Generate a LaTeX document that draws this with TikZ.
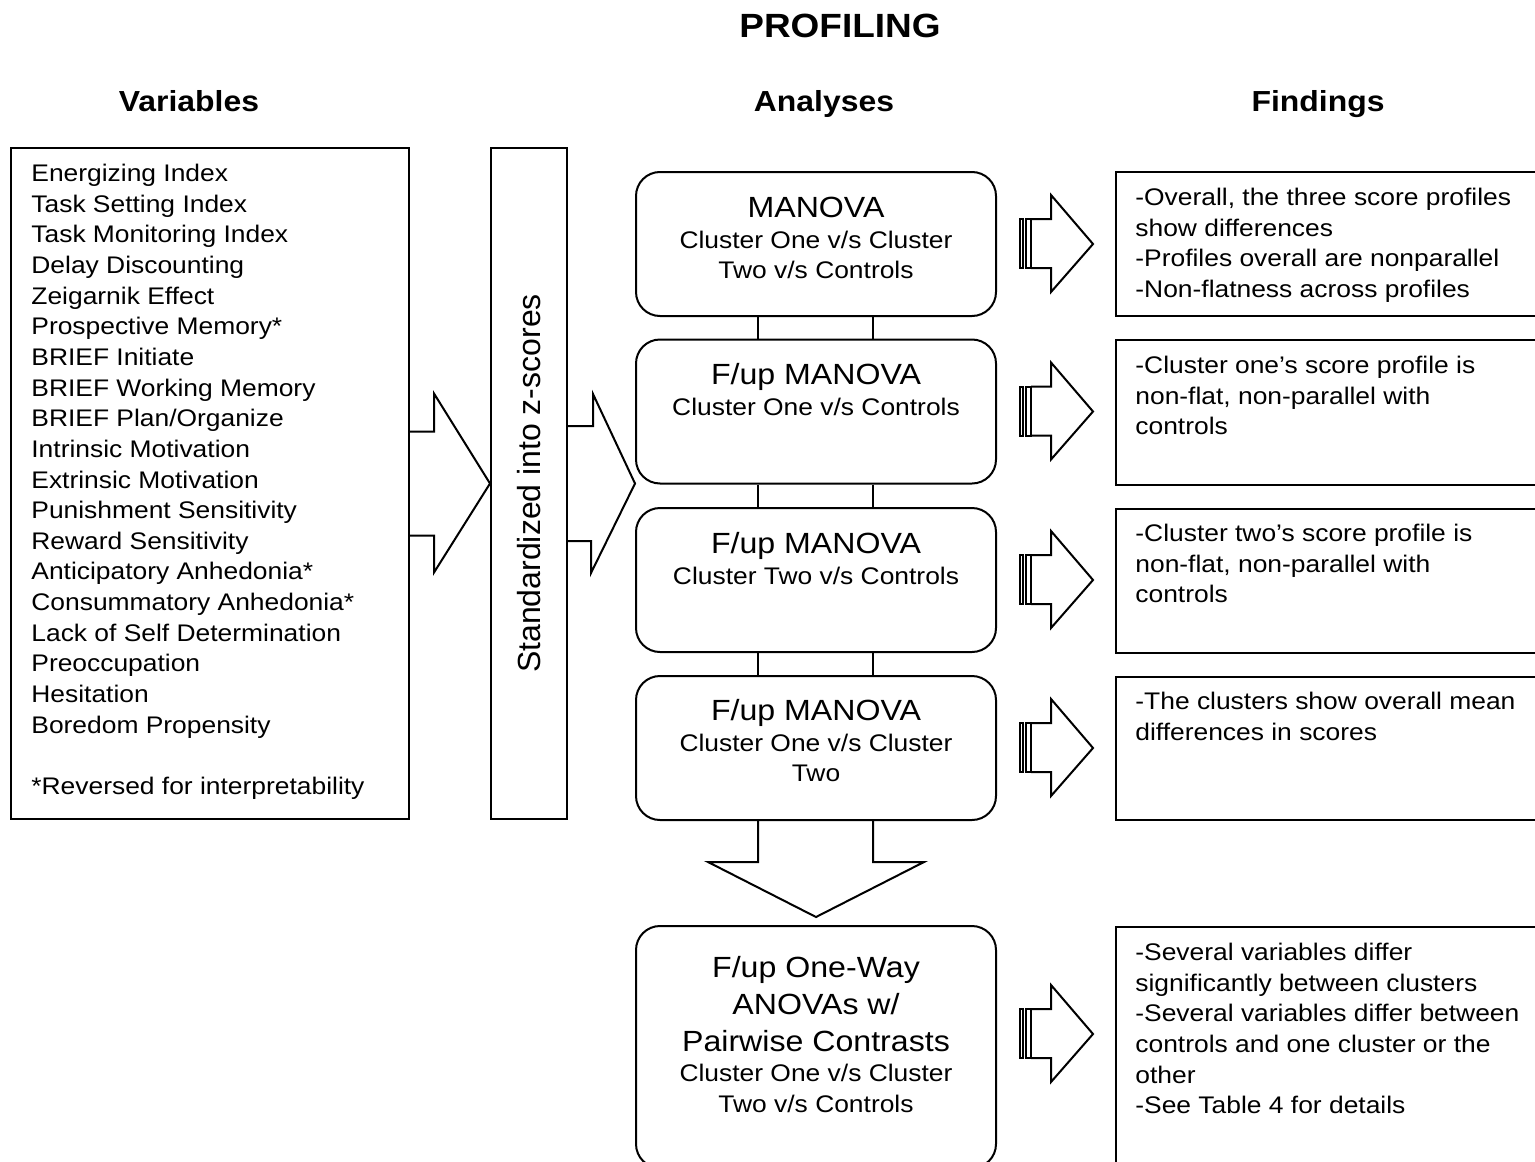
\documentclass[tikz,border=0pt]{standalone}
\usepackage{fontspec}
\setmainfont{Liberation Sans}[FakeStretch=1.1]
\newfontfamily\uprightfont{Liberation Sans}
\usetikzlibrary{calc}

% invisible strut that fixes the height of a first text line
\newcommand\topstrut{\rule{0pt}{14pt}}
\newcommand\bigline{\fontsize{14.6}{18.4}\selectfont}

\tikzset{
  stripes/.pic={
    \draw[outline] (0,-25) rectangle (3,24);
    \draw[outline] (6,-25) rectangle (11,24);
    \draw[outline, line join=miter] (11,-25) -- (31,-25) -- (31,-49) -- (73,0)
      -- (31,48) -- (31,24) -- (11,24);
  }
}

\begin{document}
\begin{tikzpicture}[x=0.5pt, y=-0.5pt,
  outline/.style={draw=black, line width=1pt},
  panel/.style={outline, fill=white, inner sep=0pt, rectangle},
  stepbox/.style={panel, rounded corners=12pt, minimum width=180pt},
  findbox/.style={panel, anchor=north west, minimum width=215pt},
  bodytext/.style={font=\fontsize{12}{15.33}\selectfont, inner sep=0pt},
  listtext/.style={bodytext, align=left, anchor=north west},
  steptext/.style={bodytext, align=center, anchor=north},
  heading/.style={font=\fontsize{14.5}{17}\selectfont\bfseries, anchor=base, inner sep=0pt},
  blockarrow/.style={outline, line join=miter},
]
\useasboundingbox (0,0) rectangle (1535,1161);
\clip (0,0) rectangle (1535,1161);

% titles
\node[heading, font=\fontsize{16.8}{20}\selectfont\bfseries] (title) at (840,38) {PROFILING};
\node[heading] (hvar) at (189,112) {Variables};
\node[heading] (hana) at (824,112) {Analyses};
\node[heading] (hfind) at (1318,112) {Findings};

% variables column
\node[panel, minimum width=199pt, minimum height=335.5pt] (vars) at (210,483.5) {};
\node[listtext] (varlist) at (31,153) {\topstrut Energizing Index\\
Task Setting Index\\
Task Monitoring Index\\
Delay Discounting\\
Zeigarnik Effect\\
Prospective Memory*\\
BRIEF Initiate\\
BRIEF Working Memory\\
BRIEF Plan/Organize\\
Intrinsic Motivation\\
Extrinsic Motivation\\
Punishment Sensitivity\\
Reward Sensitivity\\
Anticipatory Anhedonia*\\
Consummatory Anhedonia*\\
Lack of Self Determination\\
Preoccupation\\
Hesitation\\
Boredom Propensity\\[15.33pt]
*Reversed for interpretability};

% standardisation column
\node[panel, minimum width=38pt, minimum height=335.5pt] (std) at (529,483.5) {};
\node[rotate=90, inner sep=0pt, font=\uprightfont\fontsize{16}{19}\selectfont] (stdtext) at (std) {Standardized into z-scores};

% analysis steps
\node[stepbox, minimum height=72pt] (a1) at (816,244) {};
\node[stepbox, minimum height=72pt] (a2) at (816,411.5) {};
\node[stepbox, minimum height=72pt] (a3) at (816,580) {};
\node[stepbox, minimum height=72pt] (a4) at (816,748) {};
\node[stepbox, minimum height=121pt] (a5) at (816,1047) {};

\node[steptext] (t1) at (816,189) {\topstrut{\bigline MANOVA}\\Cluster One v/s Cluster\\Two v/s Controls};
\node[steptext] (t2) at (816,356) {\topstrut{\bigline F/up MANOVA}\\Cluster One v/s Controls};
\node[steptext] (t3) at (816,525) {\topstrut{\bigline F/up MANOVA}\\Cluster Two v/s Controls};
\node[steptext] (t4) at (816,692) {\topstrut{\bigline F/up MANOVA}\\Cluster One v/s Cluster\\Two};
\node[steptext] (t5) at (816,949) {\topstrut{\bigline F/up One-Way}\\[3.1pt]{\bigline ANOVAs w/}\\[3.1pt]{\bigline Pairwise Contrasts}\\Cluster One v/s Cluster\\Two v/s Controls};

% links between consecutive steps
\foreach \i/\j in {a1/a2, a2/a3, a3/a4} {
  \draw[outline] ([xshift=-29pt]\i.south) -- ([xshift=-29pt]\j.north);
  \draw[outline] ([xshift=28.5pt]\i.south) -- ([xshift=28.5pt]\j.north);
}

% block arrows between columns
\coordinate (tip2) at (std.east -| a2.west);
\draw[blockarrow] ($(std.west)+(-82,-52)$) -- ++(26,0) -- ++(0,-38) -- (std.west)
  -- ++(-56,89) -- ++(0,-37) -- ++(-26,0);
\draw[blockarrow] ($(std.east)+(0,-57.5)$) -- ++(25,0) -- ++(0,-32) -- (tip2)
  -- ++(-44,89.5) -- ++(0,-32) -- ++(-25,0);

% down arrow to the follow-up ANOVAs
\draw[blockarrow] ([xshift=-29pt]a4.south) -- ++(0,41) -- ++(-50,0) -- ++(108,55)
  -- ++(108,-55) -- ++(-51,0) -- ++(0,-41);

% findings column
\node[findbox, minimum height=72pt] (f1) at (1115,171) {};
\node[findbox, minimum height=72.5pt] (f2) at (1115,339) {};
\node[findbox, minimum height=72pt] (f3) at (1115,508) {};
\node[findbox, minimum height=71.5pt] (f4) at (1115,676) {};
\node[findbox, minimum height=150pt] (f5) at (1115,926) {};

\node[listtext] (ft1) at (1135,177) {\topstrut -Overall, the three score profiles\\show differences\\-Profiles overall are nonparallel\\-Non-flatness across profiles};
\node[listtext] (ft2) at (1135,345) {\topstrut -Cluster one’s score profile is\\non-flat, non-parallel with\\controls};
\node[listtext] (ft3) at (1135,513) {\topstrut -Cluster two’s score profile is\\non-flat, non-parallel with\\controls};
\node[listtext] (ft4) at (1135,681) {\topstrut -The clusters show overall mean\\differences in scores};
\node[listtext] (ft5) at (1135,932) {\topstrut -Several variables differ\\significantly between clusters\\-Several variables differ between\\controls and one cluster or the\\other\\-See Table 4 for details};

% striped arrows from steps to findings
\pic at ($(a1.east)+(23,0)$) {stripes};
\pic at ($(a2.east)+(23,0)$) {stripes};
\pic at ($(a3.east)+(23,0)$) {stripes};
\pic at ($(a4.east)+(23,0)$) {stripes};
\pic at ($(a5.east)+(23,-13)$) {stripes};
\end{tikzpicture}
\end{document}
